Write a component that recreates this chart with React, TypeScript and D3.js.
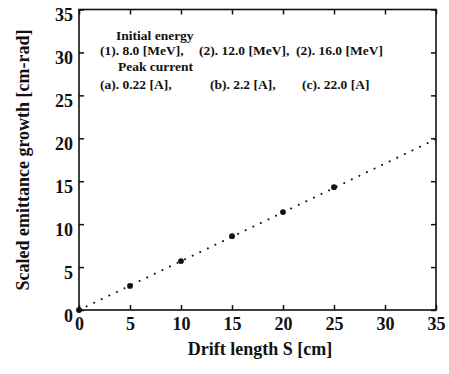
import React, { useRef, useEffect } from "react";
import { select, scaleLinear, axisBottom, axisLeft, axisTop, axisRight, line } from "d3";

// measured points
const driftLength = [0, 5, 10, 15, 20, 25];
const emittanceGrowth = [0, 2.8, 5.7, 8.6, 11.4, 14.3];

// dotted fit line
const fitS = [0, 35];
const fitE = [0, 19.9];

const xTicks = [0, 5, 10, 15, 20, 25, 30, 35];
const yTicks = [0, 5, 10, 15, 20, 25, 30, 35];

const energyLabels = ["(1). 8.0 [MeV],", "(2). 12.0 [MeV],", "(2). 16.0 [MeV]"];
const currentLabels = ["(a). 0.22 [A],", "(b). 2.2 [A],", "(c). 22.0 [A]"];

const W = 449;
const H = 374;
const left = 79, right = 436, top = 9.5, bottom = 310;
const font = "'Liberation Serif', 'Times New Roman', serif";

function App() {
  const svgRef = useRef<SVGSVGElement>(null);

  const xscale = scaleLinear().domain([0, 35]).range([left, right]);
  const yscale = scaleLinear().domain([0, 35]).range([bottom, top]);

  useEffect(() => {
    const svg = select(svgRef.current);

    const xaxis = axisBottom(xscale).tickValues(xTicks).tickSizeInner(-5).tickSizeOuter(0).tickPadding(7);
    svg.select<SVGGElement>(".x-axis").attr("transform", `translate(0,${bottom})`).call(xaxis);

    const yaxis = axisLeft(yscale).tickValues(yTicks).tickSizeInner(-5).tickSizeOuter(0).tickPadding(6);
    svg.select<SVGGElement>(".y-axis").attr("transform", `translate(${left},0)`).call(yaxis);
    svg.select(".y-axis").selectAll("text").attr("dy", "0.62em");

    const taxis = axisTop(xscale).tickValues(xTicks).tickSizeInner(-5).tickSizeOuter(0).tickFormat(() => "");
    svg.select<SVGGElement>(".t-axis").attr("transform", `translate(0,${top})`).call(taxis);

    const raxis = axisRight(yscale).tickValues(yTicks).tickSizeInner(-5).tickSizeOuter(0).tickFormat(() => "");
    svg.select<SVGGElement>(".r-axis").attr("transform", `translate(${right},0)`).call(raxis);

    svg.selectAll(".domain").remove();
    svg.selectAll(".tick line").attr("stroke", "#111").attr("stroke-width", 1.5);
    svg.selectAll(".tick text")
      .attr("font-family", font)
      .attr("font-weight", "bold")
      .attr("font-size", 18)
      .attr("fill", "#111");
    svg.selectAll(".x-axis, .y-axis, .t-axis, .r-axis").attr("font-family", null).attr("font-size", null);
  }, []);

  const fitLine = line<number>()
    .x((d) => xscale(d))
    .y((_, i) => yscale(fitE[i]));

  return (
    <svg ref={svgRef} width={W} height={H} style={{ position: "absolute", left: 0, top: 0, background: "#fff" }}>
      <rect x={left} y={top} width={right - left} height={bottom - top} fill="none" stroke="#111" strokeWidth={1.6} />
      <g className="x-axis"></g>
      <g className="y-axis"></g>
      <g className="t-axis"></g>
      <g className="r-axis"></g>

      <path d={fitLine(fitS) || ""} fill="none" stroke="#111" strokeWidth={2} strokeLinecap="round" strokeDasharray="0.1 8.3" />
      {driftLength.map((s, i) => (
        <circle key={i} cx={xscale(s)} cy={yscale(emittanceGrowth[i])} r={2.9} fill="#111" />
      ))}

      <g fontFamily={font} fontWeight="bold" fontSize={13.5} fill="#111">
        <text x={116} y={40}>Initial energy</text>
        {energyLabels.map((t, i) => (
          <text key={t} x={[100, 199, 296][i]} y={55}>{t}</text>
        ))}
        <text x={118} y={71}>Peak current</text>
        {currentLabels.map((t, i) => (
          <text key={t} x={[100, 210, 302][i]} y={89}>{t}</text>
        ))}
      </g>

      <text x={260} y={355} textAnchor="middle" fontFamily={font} fontWeight="bold" fontSize={18} fill="#111">
        Drift length S [cm]
      </text>
      <text transform="translate(29,160) rotate(-90)" textAnchor="middle" fontFamily={font} fontWeight="bold" fontSize={18} fill="#111">
        Scaled emittance growth [cm-rad]
      </text>
    </svg>
  );
}

export default App;
